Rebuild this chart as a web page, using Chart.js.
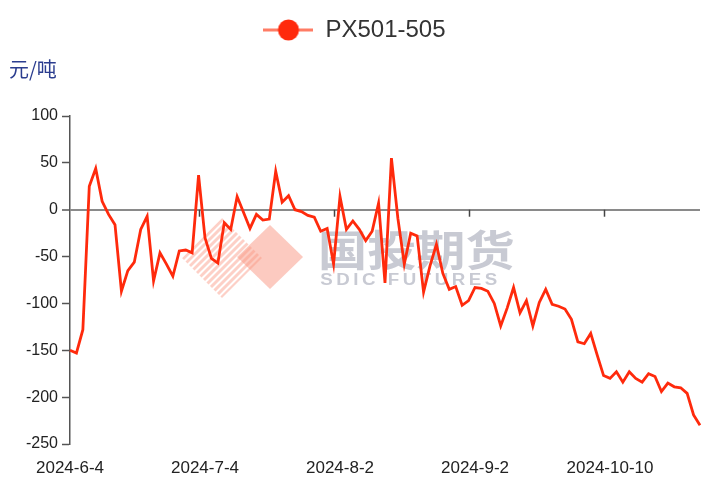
<!DOCTYPE html>
<html>
<head>
<meta charset="utf-8">
<title>PX501-505</title>
<script src="https://cdn.jsdelivr.net/npm/chart.js@4.4.1/dist/chart.umd.min.js"></script>
<style>
  html, body { margin: 0; padding: 0; background: #fff; }
  #wrap { width: 702px; height: 481px; }
</style>
</head>
<body>
<div id="wrap"><canvas id="spread-chart" width="702" height="481"></canvas></div>
<script>
const dates = [
  '2024-6-4', '2024-6-5', '2024-6-6', '2024-6-7', '2024-6-11', '2024-6-12', '2024-6-13', '2024-6-14',
  '2024-6-17', '2024-6-18', '2024-6-19', '2024-6-20', '2024-6-21', '2024-6-24', '2024-6-25', '2024-6-26',
  '2024-6-27', '2024-6-28', '2024-7-1', '2024-7-2', '2024-7-3', '2024-7-4', '2024-7-5', '2024-7-8',
  '2024-7-9', '2024-7-10', '2024-7-11', '2024-7-12', '2024-7-15', '2024-7-16', '2024-7-17', '2024-7-18',
  '2024-7-19', '2024-7-22', '2024-7-23', '2024-7-24', '2024-7-25', '2024-7-26', '2024-7-29', '2024-7-30',
  '2024-7-31', '2024-8-1', '2024-8-2', '2024-8-5', '2024-8-6', '2024-8-7', '2024-8-8', '2024-8-9',
  '2024-8-12', '2024-8-13', '2024-8-14', '2024-8-15', '2024-8-16', '2024-8-19', '2024-8-20', '2024-8-21',
  '2024-8-22', '2024-8-23', '2024-8-26', '2024-8-27', '2024-8-28', '2024-8-29', '2024-8-30', '2024-9-2',
  '2024-9-3', '2024-9-4', '2024-9-5', '2024-9-6', '2024-9-9', '2024-9-10', '2024-9-11', '2024-9-12',
  '2024-9-13', '2024-9-18', '2024-9-19', '2024-9-20', '2024-9-23', '2024-9-24', '2024-9-25', '2024-9-26',
  '2024-9-27', '2024-9-30', '2024-10-8', '2024-10-9', '2024-10-10', '2024-10-11', '2024-10-14', '2024-10-15',
  '2024-10-16', '2024-10-17', '2024-10-18', '2024-10-21', '2024-10-22', '2024-10-23', '2024-10-24', '2024-10-25',
  '2024-10-28', '2024-10-29', '2024-10-30'
];

const spread = [
  -150, -153, -128, 25, 44, 9, -5, -16,
  -87, -65, -56, -21, -7, -76, -46, -58,
  -71, -44, -43, -46, 37, -30, -52, -57,
  -14, -21, 14, -3, -20, -5, -11, -10,
  41, 8, 15, 0, -2, -6, -8, -23,
  -20, -58, 14, -21, -12, -21, -33, -23,
  7, -78, 55, -9, -58, -25, -28, -88,
  -60, -37, -68, -85, -82, -102, -97, -83,
  -84, -87, -100, -124, -105, -83, -110, -97,
  -124, -99, -85, -101, -103, -106, -117, -141,
  -143, -132, -155, -177, -180, -173, -184, -173,
  -180, -184, -175, -178, -194, -185, -189, -190,
  -196, -219, -230
];

const shownDates = ['2024-6-4', '2024-7-4', '2024-8-2', '2024-9-2', '2024-10-10'];
const yMin = -250;
const yMax = 100;
const yStep = 50;
const seriesName = 'PX501-505';
const unitLabel = '元/吨';

const lineColor = 'rgb(255, 42, 12)';
const fontFamily = '"Liberation Sans", Arial, sans-serif';

// legend marker: short line with a dot in the middle
const marker = document.createElement('canvas');
marker.width = 50;
marker.height = 24;
(function () {
  const m = marker.getContext('2d');
  m.strokeStyle = 'rgba(255, 80, 50, 0.75)';
  m.lineWidth = 3;
  m.beginPath();
  m.moveTo(0, 12);
  m.lineTo(50, 12);
  m.stroke();
  m.fillStyle = lineColor;
  m.beginPath();
  m.arc(25, 12, 10.5, 0, Math.PI * 2);
  m.fill();
})();

// faint logo watermark and the little ticks on the zero line
const extras = {
  id: 'extras',
  beforeDatasetsDraw(chart) {
    const ctx = chart.ctx;
    ctx.save();
    // striped half
    ctx.save();
    ctx.beginPath();
    ctx.moveTo(222, 218);
    ctx.lineTo(262, 258);
    ctx.lineTo(222, 298);
    ctx.lineTo(182, 258);
    ctx.closePath();
    ctx.clip();
    ctx.strokeStyle = 'rgba(250, 150, 130, 0.45)';
    ctx.lineWidth = 3;
    for (let k = -80; k < 120; k += 7) {
      ctx.beginPath();
      ctx.moveTo(170 + k, 310);
      ctx.lineTo(270 + k, 210);
      ctx.stroke();
    }
    ctx.restore();
    // solid diamond
    ctx.fillStyle = 'rgba(250, 150, 130, 0.5)';
    ctx.beginPath();
    ctx.moveTo(270, 225);
    ctx.lineTo(303, 257);
    ctx.lineTo(270, 289);
    ctx.lineTo(237, 257);
    ctx.closePath();
    ctx.fill();
    // company name
    ctx.fillStyle = 'rgba(145, 150, 168, 0.5)';
    ctx.translate(318, 0);
    ctx.scale(1.17, 1);
    ctx.font = 'bold 42px "Noto Sans CJK SC"';
    ctx.textBaseline = 'alphabetic';
    ctx.fillText('国投期货', 0, 266);
    ctx.font = 'bold 16px ' + fontFamily;
    ctx.letterSpacing = '3px';
    ctx.fillText('SDIC FUTURES', 2, 285);
    ctx.restore();
  },
  afterDraw(chart) {
    const { ctx, scales: { x, y } } = chart;
    ctx.save();
    const y0 = y.getPixelForValue(0);
    ctx.strokeStyle = '#444';
    ctx.lineWidth = 1.5;
    shownDates.slice(1).forEach(d => {
      const px = Math.round(x.getPixelForValue(dates.indexOf(d) - 1)) + 0.5;
      ctx.beginPath();
      ctx.moveTo(px, y0);
      ctx.lineTo(px, y0 + 7);
      ctx.stroke();
    });
    ctx.restore();
  }
};

new Chart(document.getElementById('spread-chart'), {
  type: 'line',
  data: {
    labels: dates,
    datasets: [{
      label: seriesName,
      data: spread,
      borderColor: lineColor,
      backgroundColor: lineColor,
      borderWidth: 2.8,
      pointRadius: 0,
      tension: 0
    }]
  },
  options: {
    responsive: false,
    devicePixelRatio: 1,
    animation: false,
    layout: { padding: { top: 8, right: 2, bottom: 0, left: 9 } },
    plugins: {
      legend: {
        position: 'top',
        weight: 3000,
        labels: {
          usePointStyle: true,
          pointStyle: marker,
          pointStyleWidth: 50,
          color: '#333',
          padding: 10,
          font: { size: 24, family: fontFamily }
        }
      },
      title: {
        display: true,
        text: unitLabel,
        position: 'top',
        align: 'start',
        weight: 2000,
        color: '#2b3d8f',
        padding: { top: 5, bottom: 35 },
        font: { size: 20, weight: 'normal', family: '"Noto Sans CJK SC", sans-serif' }
      },
      tooltip: { enabled: false }
    },
    scales: {
      x: {
        type: 'category',
        offset: false,
        border: { display: false },
        grid: { display: false, drawTicks: false },
        ticks: {
          autoSkip: false,
          maxRotation: 0,
          padding: 14,
          color: '#222',
          font: { size: 17, family: fontFamily },
          callback: function (value) {
            const d = this.getLabelForValue(value);
            return shownDates.includes(d) ? d : '';
          }
        },
        afterFit(scale) {
          scale.height = 37;
          scale.paddingLeft = 0;
          scale.paddingRight = 0;
        }
      },
      y: {
        min: yMin,
        max: yMax,
        border: { display: true, color: '#555', width: 1.5 },
        grid: {
          color: ctx => ctx.tick && ctx.tick.value === 0 ? '#8a8a8a' : 'rgba(0,0,0,0)',
          lineWidth: ctx => ctx.tick && ctx.tick.value === 0 ? 2 : 1,
          tickColor: '#555',
          tickLength: 8,
          tickWidth: 1.5
        },
        ticks: {
          stepSize: yStep,
          padding: 4,
          color: '#222',
          font: { size: 16, family: fontFamily }
        },
        afterFit(scale) {
          scale.width = 61;
        }
      }
    }
  },
  plugins: [extras]
});
</script>
</body>
</html>
